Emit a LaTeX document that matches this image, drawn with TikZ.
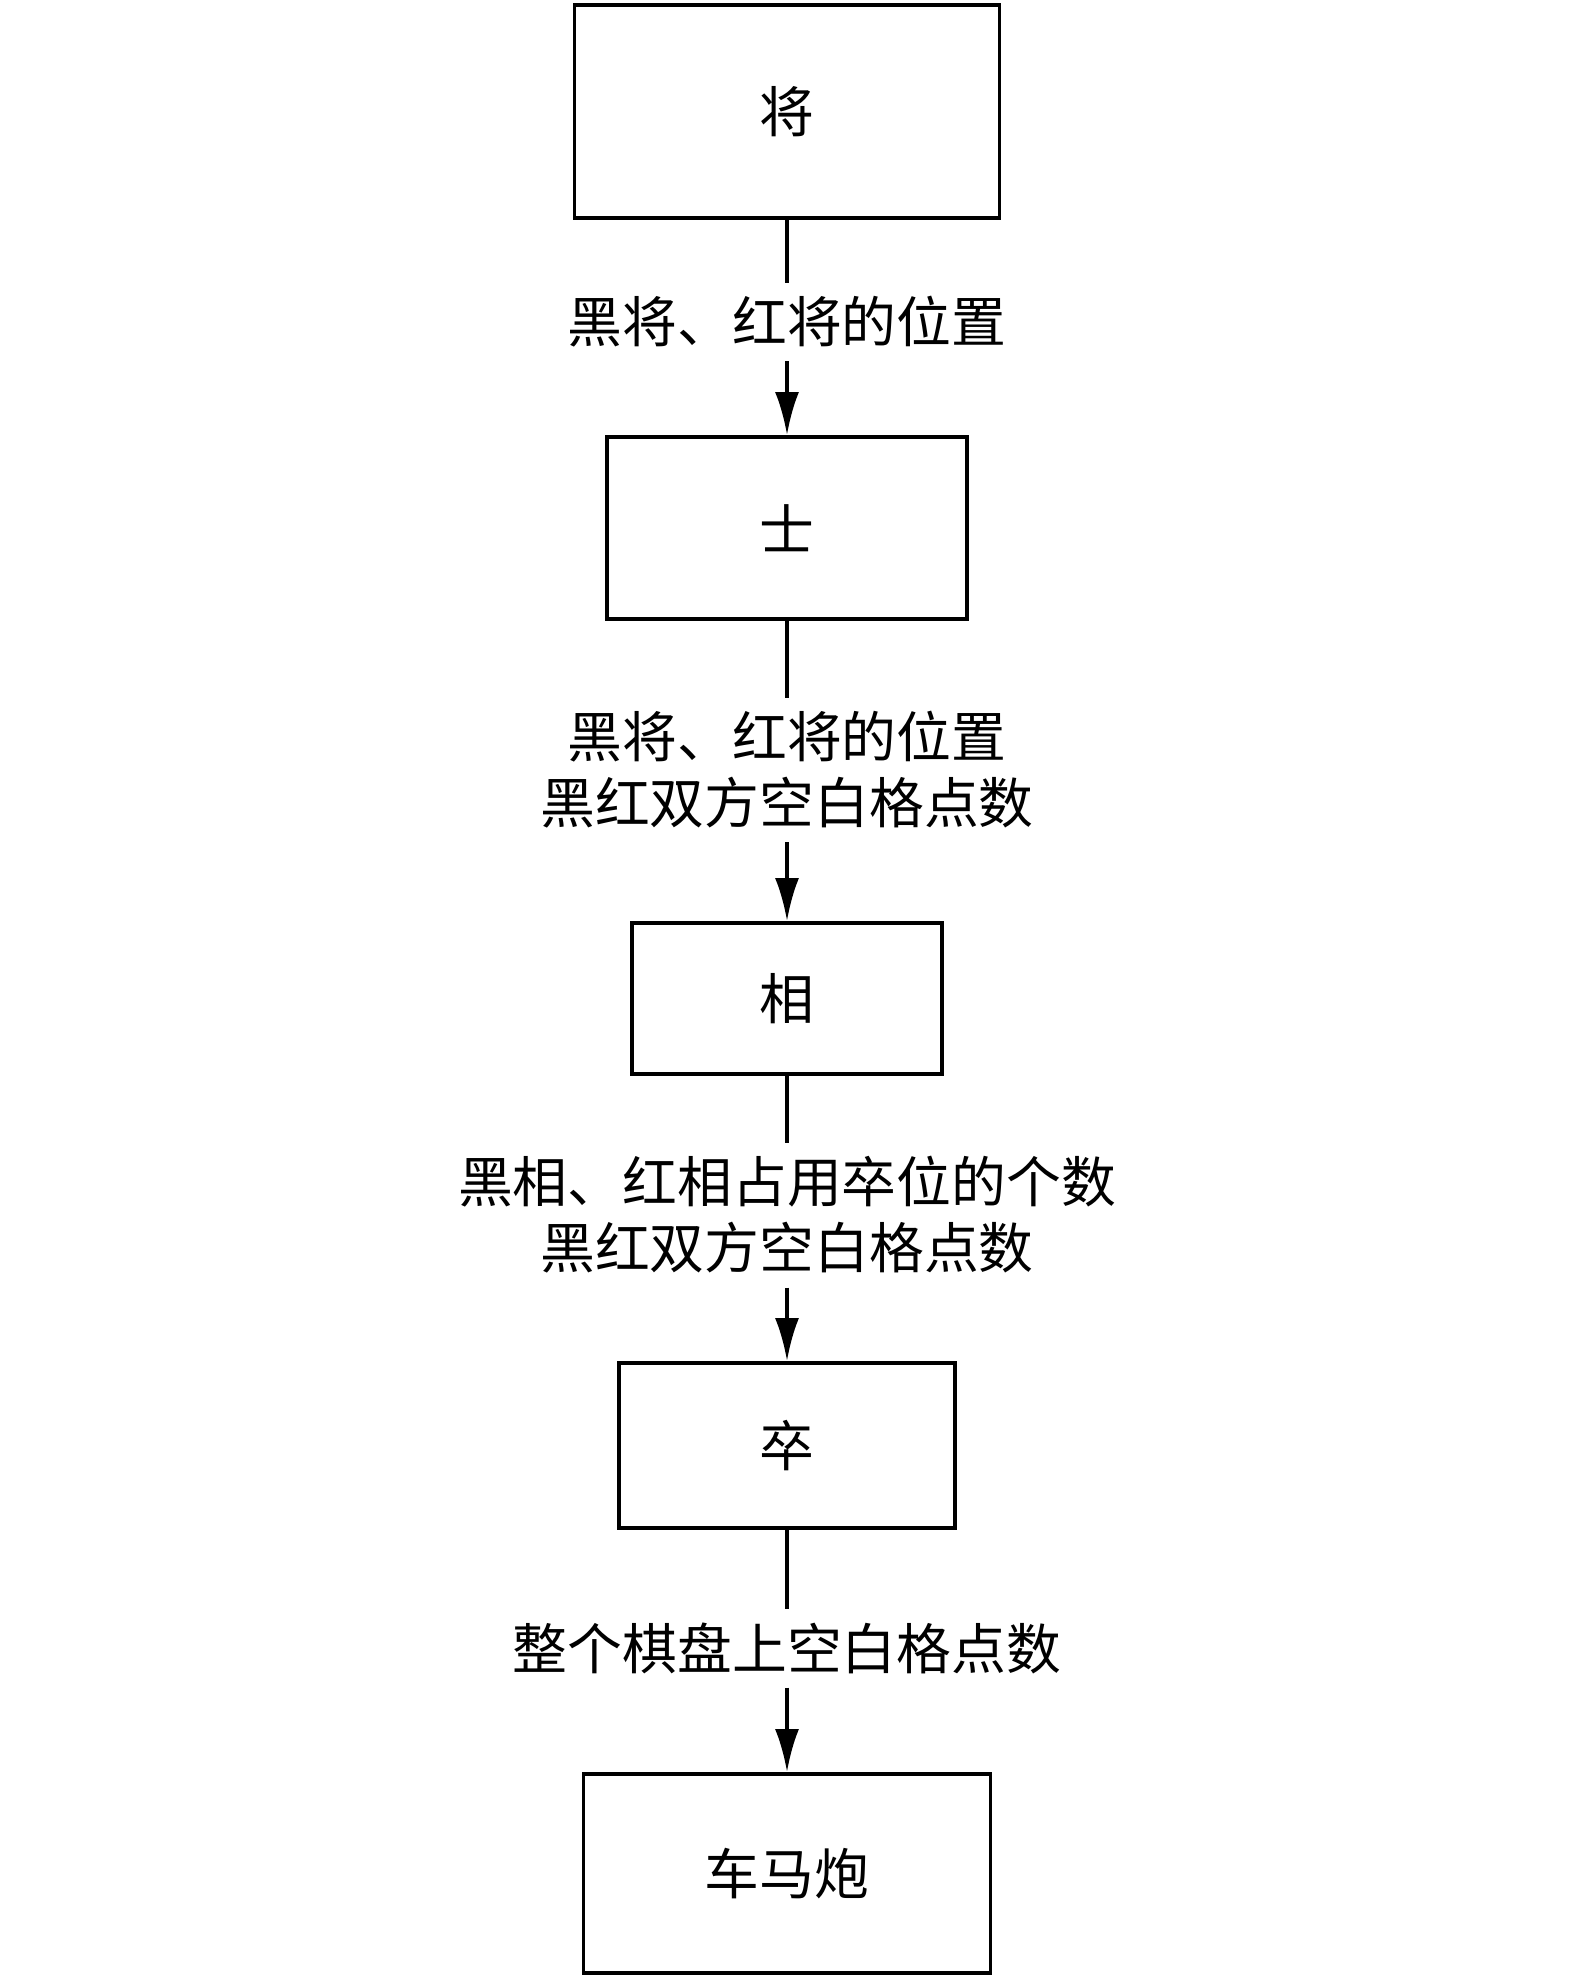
\documentclass[tikz,border=0pt]{standalone}
\usepackage{fontspec}
\newfontfamily\cjk{Noto Sans CJK SC}
\usetikzlibrary{arrows.meta}
\begin{document}
\begin{tikzpicture}[
  line width=1.1pt,
  >={Latex[length=4.3mm,width=2.4mm]},
  every node/.style={font=\cjk\fontsize{15.6pt}{18.8pt}\selectfont},
  box/.style={draw,minimum width=#1,inner sep=0pt},
  lab/.style={align=center,inner sep=0.12cm}]
\useasboundingbox (0,0) rectangle (15.75,-19.78);
\node[box=4.25cm,minimum height=2.13cm] (jiang) at (7.87,-1.115) {将};
\node[box=3.60cm,minimum height=1.82cm] (shi) at (7.87,-5.28) {士};
\node[box=3.10cm,minimum height=1.51cm] (xiang) at (7.87,-9.985) {相};
\node[box=3.36cm,minimum height=1.65cm] (zu) at (7.87,-14.455) {卒};
\node[box=4.07cm,minimum height=1.99cm] (chema) at (7.87,-18.735) {车马炮};
\node[lab] (l1) at (7.87,-3.22) {黑将、红将的位置};
\node[lab] (l2) at (7.87,-7.70) {黑将、红将的位置\\黑红双方空白格点数};
\node[lab] (l3) at (7.87,-12.15) {黑相、红相占用卒位的个数\\黑红双方空白格点数};
\node[lab] (l4) at (7.87,-16.48) {整个棋盘上空白格点数};
\foreach \a/\l/\b in {jiang/l1/shi,shi/l2/xiang,xiang/l3/zu,zu/l4/chema}{
  \draw (\a) -- (\l);
  \draw[->] (\l) -- (\b);
}
\end{tikzpicture}
\end{document}
